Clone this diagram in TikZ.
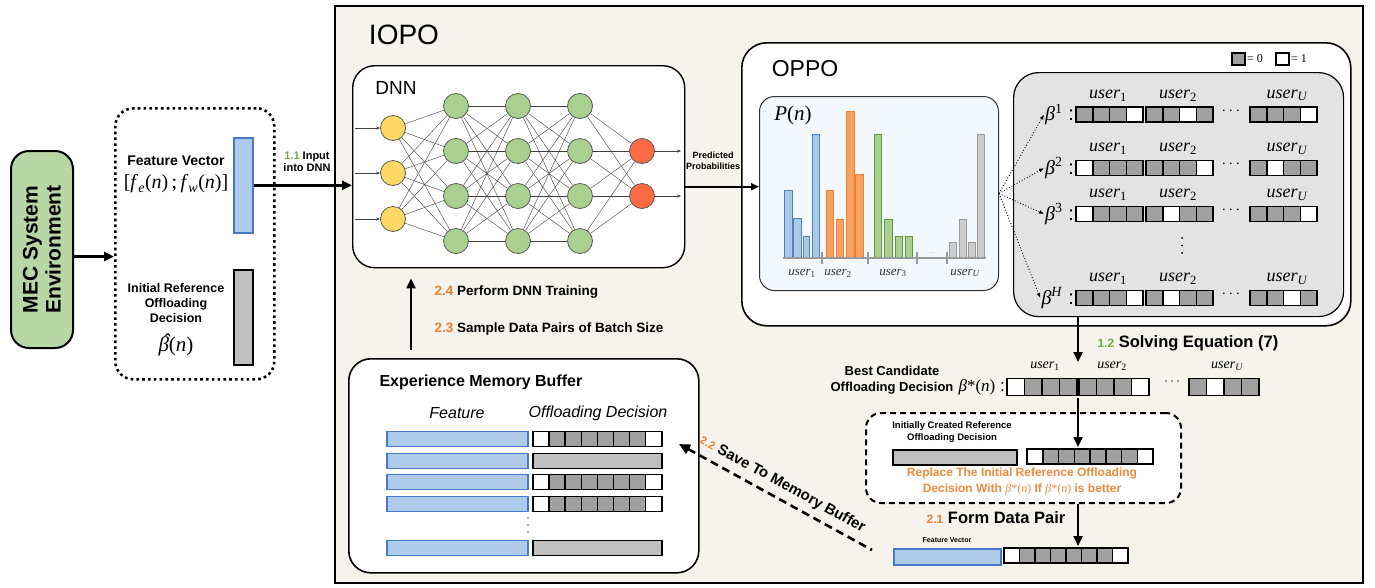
\documentclass[tikz,border=0pt]{standalone}
\usepackage{fontspec}
\setmainfont{Liberation Sans}
\newfontfamily\ser{Liberation Serif}
\usetikzlibrary{arrows.meta,calc}
\definecolor{bgc}{HTML}{F6F2EC}
\definecolor{mecg}{HTML}{B9D7A6}
\definecolor{fvf}{HTML}{AECBEA}
\definecolor{fvd}{HTML}{4A78C8}
\definecolor{barg}{HTML}{BFBFBF}
\definecolor{cellg}{HTML}{A0A0A0}
\definecolor{yel}{HTML}{FFD966}
\definecolor{grn}{HTML}{A9D08E}
\definecolor{redn}{HTML}{FF6A45}
\definecolor{pbg}{HTML}{F3F8FC}
\definecolor{candg}{HTML}{E3E3E3}
\definecolor{gnum}{HTML}{70AD47}
\definecolor{onum}{HTML}{ED7D31}
\definecolor{otext}{HTML}{F08A3C}
\definecolor{blf}{HTML}{A9C9E8}\definecolor{bld}{HTML}{4F81BD}
\definecolor{orf}{HTML}{F5A263}\definecolor{ord}{HTML}{F07F2A}
\definecolor{grf}{HTML}{ABD092}\definecolor{grd}{HTML}{5E9A3C}
\definecolor{gyf}{HTML}{CDCDCD}\definecolor{gyd}{HTML}{9A9A9A}
\newcommand\fsz[2]{\fontsize{#1}{#2}\selectfont}
\newcommand\usr[1]{{\ser\itshape user\textsubscript{#1}}}
\newcommand\bt{{\ser\itshape β}}
\newcommand\bstar{{\ser\mdseries{\itshape β}*(\textit{n})}}
\newcommand\bits[5]{%
  \foreach \bb [count=\ii from 0] in {#5}{%
    \ifnum\bb=1 \def\fc{white}\else\def\fc{cellg}\fi
    \draw[cell, fill=\fc] ({#1+\ii*#3},{#2}) rectangle ++(#3,#4);
  }}
\newcommand\brow[6]{%
  \node[anchor=east, inner sep=1pt, font=\fsz{20}{22}] (#1) at (1075,#3) {\bt\textsuperscript{\ser #2} :};
  \bits{1076}{#3-7.5}{16.75}{15}{#4}
  \bits{1146}{#3-7.5}{16.75}{15}{#5}
  \bits{1250}{#3-7.5}{16.75}{15}{#6}
  \node[font=\fsz{18}{20}] (#1u1) at (1108,#3-19) {\usr{\textup{1}}};
  \node[font=\fsz{18}{20}] (#1u2) at (1178,#3-19) {\usr{\textup{2}}};
  \node[font=\fsz{18}{20}] (#1uU) at (1287,#3-19) {\usr{U}};
  \node[font=\fsz{14}{14}] (#1d) at (1231,#3-2) {{\ser ·\,·\,·}};
}
\begin{document}
\begin{tikzpicture}[x=1pt,y=-1pt,
  box/.style={draw, line width=1.6pt, anchor=north west, inner sep=0pt},
  cell/.style={draw=black, line width=1.5pt},
  arr/.style={line width=2.2pt, -{Triangle[length=10pt,width=9pt]}},
  arrthin/.style={line width=1.6pt, -{Triangle[length=8pt,width=7pt]}},
  dotarr/.style={line width=0.9pt, dotted, -{Latex[length=5pt,width=4pt]}},
  edge/.style={line width=0.4pt, black!75},
  neur/.style={circle, draw=black!65, line width=0.8pt, minimum size=25pt, inner sep=0pt},
  lbl/.style={font=\bfseries\fsz{13.5}{15}, anchor=west}]
\useasboundingbox (0,0) rectangle (1375,587);
\fill[white] (0,0) rectangle (1375,587);

% ---------- boxes ----------
\node[box, fill=bgc, minimum width=1028pt, minimum height=577pt] (iopo) at (334,5) {};
\node[font=\fsz{28}{30}] (iopot) at (404,35) {IOPO};

\node[box, rounded corners=18pt, fill=mecg, line width=2pt, minimum width=62pt, minimum height=197pt] (mec) at (10,150) {};
\node[rotate=90, align=center, font=\bfseries\fsz{21}{23}] (mect) at (mec.center) {MEC System\\Environment};

\node[box, rounded corners=18pt, fill=white, line width=2.6pt, dash pattern=on 2.6pt off 3.2pt, minimum width=159pt, minimum height=271pt] (fbox) at (114,107) {};
\node[box, draw=fvd, fill=fvf, line width=1.6pt, minimum width=19pt, minimum height=95pt] (fv) at (233,137) {};
\node[box, fill=barg, line width=1.8pt, minimum width=19pt, minimum height=95pt] (ir) at (233,269) {};
\node[font=\bfseries\fsz{14}{16}] (fvt) at (176,161) {Feature Vector};
\node[font=\ser\fsz{20}{22}] (fvm) at (176,184) {[\textit{f}\textsubscript{\textit{e}}(\textit{n})\,;\,\textit{f}\textsubscript{\textit{w}}(\textit{n})]};
\node[align=center, font=\bfseries\fsz{12.5}{15}] (irt) at (176,303) {Initial Reference\\Offloading\\Decision};
\node[font=\ser\fsz{21}{22}] (irm) at (176,345) {{\itshape\rlap{\hspace{0.2em}\raisebox{0.18em}{ˆ}}β}(\textit{n})};
\node[align=center, font=\bfseries\fsz{11}{12.5}] (l11) at (307,162) {\textcolor{gnum}{1.1} Input\\into DNN};

% ---------- DNN ----------
\node[box, rounded corners=22pt, fill=white, line width=1.4pt, minimum width=332pt, minimum height=202pt] (dnn) at (352,65) {};
\node[font=\fsz{19}{20}] (dnnt) at (396,88) {DNN};
\foreach \i/\y in {1/128,2/173,3/219} {
  \node[neur, fill=yel] (i\i) at (393,\y) {};
  \coordinate (in\i) at (355,\y);
}
\foreach \l/\x in {1/456,2/518,3/580}
  \foreach \j/\y in {1/106,2/151,3/196,4/241}
    \node[neur, fill=grn] (h\l\j) at (\x,\y) {};
\foreach \k/\y in {1/151,2/196} {
  \node[neur, fill=redn] (o\k) at (642,\y) {};
  \coordinate (out\k) at (681,\y);
}
\foreach \i in {1,2,3} \foreach \j in {1,...,4} \draw[edge] (i\i) -- (h1\j);
\foreach \l/\m in {1/2,2/3} \foreach \j in {1,...,4} \foreach \k in {1,...,4} \draw[edge] (h\l\j) -- (h\m\k);
\foreach \j in {1,...,4} \foreach \k in {1,2} \draw[edge] (h3\j) -- (o\k);
\foreach \i in {1,2,3} \draw[edge, -{Stealth[length=4pt,width=3pt]}] (in\i) -- (i\i);
\foreach \k in {1,2} \draw[edge, -{Stealth[length=4pt,width=3pt]}] (o\k) -- (out\k);
\node[align=center, font=\bfseries\fsz{9}{10.5}] (pp) at (713,161) {Predicted\\Probabilities};

% ---------- OPPO ----------
\node[box, rounded corners=25pt, fill=white, minimum width=609pt, minimum height=283pt] (oppo) at (741,42) {};
\node[font=\fsz{23}{25}] (oppot) at (805,69) {OPPO};
\node[box, rounded corners=15pt, fill=pbg, line width=1pt, draw=black!80, minimum width=239pt, minimum height=194pt] (pbox) at (759,96) {};
\node[font=\ser\fsz{21}{22}] (pn) at (793,115) {\textit{P}(\textit{n})};
\foreach \xa/\xb/\t/\f/\d in {784/792/190/blf/bld,793.5/801/218/blf/bld,803/809.5/236/blf/bld,812/819.5/134/blf/bld,
   826/833.5/190/orf/ord,836/843.5/219/orf/ord,846/854/111/orf/ord,855.5/863/174/orf/ord,
   874/881.5/134/grf/grd,884.5/892/219/grf/grd,895/902/236/grf/grd,905/912.5/236/grf/grd,
   949/956/242/gyf/gyd,959/966/219/gyf/gyd,968.5/975.5/242/gyf/gyd,977/984.5/134/gyf/gyd}
  \draw[fill=\f, draw=\d, line width=0.9pt] (\xa,258) rectangle (\xb,\t);
\draw[gyd, line width=1.2pt] (783,258) -- (986,258);
\foreach \x in {822,868,917,947} \draw[gyd, line width=1.2pt] (\x,252) -- (\x,264);
\node[text=gyd, font=\fsz{8}{8}] (pdots) at (932,253) {...};
\foreach \x/\s/\n in {802/\textup{1}/a,838/\textup{2}/b,893/\textup{3}/c,965/U/d}
  \node[text=black!80, font=\fsz{13}{14}] (pu\n) at (\x,273) {\usr{\s}};

% legend
\draw[cell, fill=cellg] (1232,53) rectangle (1245,65);
\node[anchor=west, font=\ser\fsz{12}{12}, inner sep=1pt] (leg0) at (1246,59) {= 0};
\draw[cell, fill=white] (1276,53) rectangle (1289,65);
\node[anchor=west, font=\ser\fsz{12}{12}, inner sep=1pt] (leg1) at (1290,59) {= 1};

% candidates
\node[box, rounded corners=25pt, fill=candg, line width=1.2pt, minimum width=330pt, minimum height=244pt] (cand) at (1013,72) {};
\brow{b1}{1}{114.5}{0,0,0,1}{0,0,1,0}{0,0,0,1}
\brow{b2}{2}{168}{1,0,0,0}{0,0,0,1}{0,1,0,0}
\brow{b3}{3}{214}{1,0,0,0}{0,1,0,0}{0,0,0,1}
\brow{bH}{\textit{H}}{298}{0,0,0,1}{0,1,0,0}{0,0,1,0}
\foreach \y in {238,245.5,253} \fill (1182,\y) circle (1pt);
\foreach \b in {b1,b2,b3,bH} \draw[dotarr] (pbox.east) -- (\b.west);

% ---------- best candidate ----------
\node[align=center, font=\bfseries\fsz{13}{15.5}] (bestt) at (892,380) {Best Candidate\\Offloading Decision};
\node[anchor=east, inner sep=1pt, font=\fsz{17}{18}] (bestm) at (1006,387) {\bstar\ :};
\bits{1007}{378.5}{17.5}{17}{1,0,0,0}
\bits{1079}{378.5}{17.5}{17}{0,0,0,1}
\bits{1189}{378.5}{17.5}{17}{0,1,0,0}
\node[font=\fsz{14}{15}] (bu1) at (1045,366) {\usr{\textup{1}}};
\node[font=\fsz{14}{15}] (bu2) at (1112,366) {\usr{\textup{2}}};
\node[font=\fsz{14}{15}] (buU) at (1227,366) {\usr{U}};
\node[font=\fsz{12}{12}] (bdots) at (1172,383) {{\ser ·\,·\,·}};
\node[lbl, font=\bfseries\fsz{16.5}{18}] (solve) at (1094,343) {\textcolor{gnum}{\fsz{12}{13}1.2} Solving Equation (7)};
\coordinate (bestTop) at (1078,362);
\coordinate (bestBot) at (1078,398);

% ---------- replace box ----------
\node[box, rounded corners=15pt, fill=white, line width=2pt, dash pattern=on 6pt off 4pt, minimum width=315pt, minimum height=90pt] (dbox) at (865,412) {};
\node[align=center, font=\bfseries\fsz{9.5}{11.5}] (dboxt) at (952,432) {Initially Created Reference\\Offloading Decision};
\node[box, fill=barg, line width=1.6pt, minimum width=124pt, minimum height=15pt] (rbar) at (892,449) {};
\bits{1027}{449}{15.75}{15}{1,0,0,0,0,0,0,1}
\coordinate (rbits) at (1078,447);
\node[align=center, text=otext, font=\bfseries\fsz{12}{16}] (rept) at (1022,481) {Replace The Initial Reference Offloading\\Decision With \bstar\ If \bstar\ is better};
\node[font=\bfseries\fsz{16.5}{18}] (formt) at (996,518) {\textcolor{onum}{\fsz{12}{13}2.1} Form Data Pair};

% ---------- data pair ----------
\node[font=\bfseries\fsz{7}{8}] (pairt) at (947,540) {Feature Vector};
\node[box, draw=fvd, fill=fvf, line width=1.6pt, minimum width=107pt, minimum height=16pt] (pairf) at (893,548) {};
\bits{1004}{548}{15.5}{15}{1,0,0,0,0,0,0,1}
\coordinate (pairbits) at (1078,546);

% ---------- memory buffer ----------
\node[box, rounded corners=22pt, fill=white, minimum width=350pt, minimum height=214pt] (mem) at (348,358) {};
\node[anchor=west, font=\bfseries\fsz{16}{18}] (memt) at (376,382) {Experience Memory Buffer};
\node[font=\itshape\fsz{16}{18}] (memf) at (457,413) {Feature};
\node[font=\itshape\fsz{16}{18}] (memo) at (598,413) {Offloading Decision};
\foreach \y/\t in {439/1,461/0,482/1,504/1,548/0} {
  \draw[draw=fvd, fill=fvf, line width=1.6pt] (387,\y-7.5) rectangle (528,\y+7.5);
  \ifnum\t=1 \bits{533}{\y-7.5}{16.1}{15}{1,0,0,0,0,0,0,1}
  \else \draw[cell, fill=barg] (533,\y-7.5) rectangle (662,\y+7.5); \fi
}
\foreach \y in {518,525,532} \fill[black!60] (528,\y) circle (0.8pt);
\node[lbl] (l24) at (431,292) {\textcolor{onum}{2.4} Perform DNN Training};
\node[lbl] (l23) at (431,329) {\textcolor{onum}{2.3} Sample Data Pairs of Batch Size};

% ---------- connectors ----------
\coordinate (mecout) at ([yshift=-7pt]mec.east);
\draw[arr, line width=2.6pt] (mecout) -- (mecout -| fbox.west);
\draw[arr, line width=2.6pt] (fv.east) -- (fv.east -| dnn.west);
\coordinate (dnnout) at ([yshift=-20pt]dnn.east);
\draw[arrthin] (dnnout) -- (dnnout -| pbox.west);
\draw[arr] (bestTop |- cand.south) -- (bestTop);
\draw[arr] (bestBot) -- (rbits);
\draw[arr] (bestBot |- dbox.south) -- (pairbits);
\coordinate (memup) at (411,350);
\draw[arr, line width=2.6pt, shorten >=10pt] (memup) -- (memup |- dnn.south);
\coordinate (saveE) at (679,444);
\coordinate (saveS) at (872,550);
\draw[line width=2.6pt, dash pattern=on 8pt off 5pt, {Triangle[length=11pt,width=10pt]}-] (saveE) -- node[sloped, above=3pt, pos=0.5, font=\bfseries\fsz{15}{16}] (savet) {\textcolor{onum}{\fsz{11}{12}2.2} Save To Memory Buffer} (saveS);
\end{tikzpicture}
\end{document}
